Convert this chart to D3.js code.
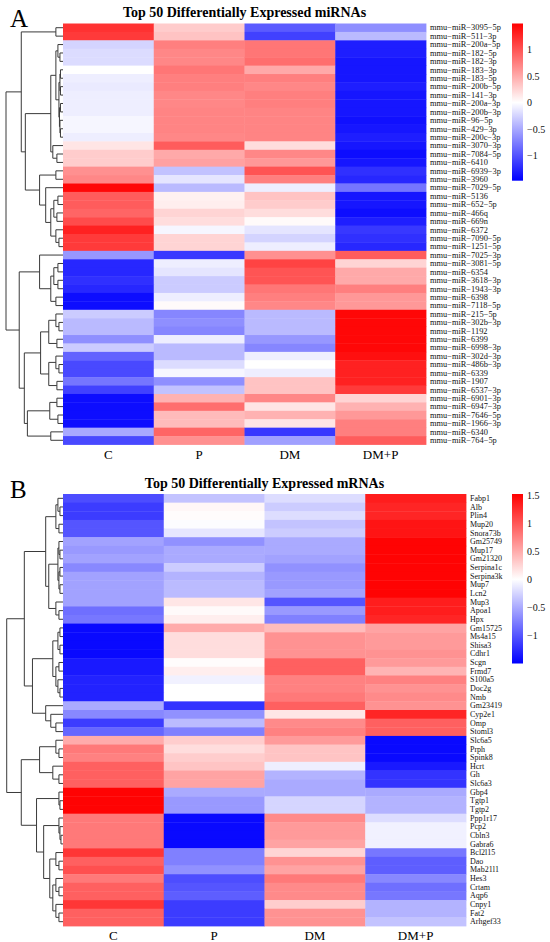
<!DOCTYPE html>
<html>
<head>
<meta charset="utf-8">
<script src="https://cdn.jsdelivr.net/npm/d3@7"></script>
<style>
  body { margin: 0; background: #fff; }
  text { font-family: "Liberation Serif", "Times New Roman", serif; }
</style>
</head>
<body>
<svg id="chart" width="550" height="942"></svg>
<script>
// groups on the x axis (same for both panels)
var groups = ["C", "P", "DM", "DM+P"];

// ---- panel A : miRNAs ----
var miRNAs = ["mmu-miR-3095-5p","mmu-miR-511-3p","mmu-miR-200a-5p","mmu-miR-182-5p","mmu-miR-182-3p",
  "mmu-miR-183-3p","mmu-miR-183-5p","mmu-miR-200b-5p","mmu-miR-141-3p","mmu-miR-200a-3p",
  "mmu-miR-200b-3p","mmu-miR-96-5p","mmu-miR-429-3p","mmu-miR-200c-3p","mmu-miR-3070-3p",
  "mmu-miR-7084-5p","mmu-miR-6410","mmu-miR-6939-3p","mmu-miR-3960","mmu-miR-7029-5p",
  "mmu-miR-5136","mmu-miR-652-5p","mmu-miR-466q","mmu-miR-669n","mmu-miR-6372",
  "mmu-miR-7090-5p","mmu-miR-1251-5p","mmu-miR-7025-3p","mmu-miR-3081-5p","mmu-miR-6354",
  "mmu-miR-3618-3p","mmu-miR-1943-3p","mmu-miR-6398","mmu-miR-7118-5p","mmu-miR-215-5p",
  "mmu-miR-302b-3p","mmu-miR-1192","mmu-miR-6399","mmu-miR-6998-3p","mmu-miR-302d-3p",
  "mmu-miR-486b-3p","mmu-miR-6339","mmu-miR-1907","mmu-miR-6537-3p","mmu-miR-6901-3p",
  "mmu-miR-6947-3p","mmu-miR-7646-5p","mmu-miR-1966-3p","mmu-miR-6340","mmu-miR-764-5p"];

var miC = [1.2,1.15,-0.25,-0.2,-0.2,0.0,-0.1,-0.12,-0.1,-0.1,
  -0.1,-0.05,-0.05,-0.1,0.15,0.3,0.3,0.65,0.7,1.45,
  0.95,0.95,0.9,1.05,1.3,1.15,1.15,-0.6,-1.25,-1.25,
  -1.2,-1.25,-1.4,-1.4,-0.3,-0.4,-0.4,-0.65,-0.3,-0.9,
  -1.05,-1.05,-0.8,-1.1,-1.4,-1.4,-1.4,-1.4,-0.5,-1.05];
var miP = [0.3,0.35,0.75,0.7,0.7,0.8,0.75,0.75,0.7,0.7,
  0.72,0.72,0.72,0.7,0.95,0.5,0.55,-0.35,-0.15,-0.4,
  0.08,0.1,0.25,0.2,-0.05,0.25,0.25,-1.15,-0.1,-0.15,
  -0.3,-0.3,-0.1,0.03,-0.7,-0.65,-0.7,-0.1,-0.4,-0.4,
  -0.2,-0.05,-0.65,-0.35,0.45,0.85,0.4,0.4,0.9,0.65];
var miDM = [-0.95,-1.1,0.8,0.8,0.85,0.5,0.75,0.7,0.75,0.75,
  0.72,0.72,0.72,0.72,0.2,0.7,0.6,1.0,0.75,-0.1,
  0.35,0.3,0.2,0.03,-0.15,-0.25,-0.1,0.65,1.1,1.0,
  1.0,0.8,0.75,0.7,-0.4,-0.4,-0.4,-0.6,-0.7,-0.1,
  0.0,-0.1,0.35,0.35,0.7,0.15,0.45,0.15,-1.15,-0.55];
var miDMP = [-0.65,-0.4,-1.3,-1.3,-1.35,-1.35,-1.35,-1.3,-1.35,-1.35,
  -1.35,-1.38,-1.35,-1.3,-1.35,-1.4,-1.35,-1.2,-1.25,-0.8,
  -1.35,-1.35,-1.4,-1.3,-1.15,-1.2,-1.25,0.95,0.25,0.5,
  0.5,0.75,0.6,0.6,1.45,1.45,1.45,1.45,1.45,1.4,
  1.3,1.3,1.3,1.15,0.25,0.45,0.6,0.75,0.75,0.95];

// row dendrogram: leaf = row index, node = [left, right, merge height]
var miTree = [
  [[0, 1, 7],
   [[[[2, [3, 4, 3], 5],
      [[[5, 6, 2.5], [7, 8, 2.5], 3], [[9, 10, 2.5], [11, [12, 13, 2.5], 3], 3.5], 4], 7],
     [14, [15, 16, 6], 10], 12],
    [[17, 18, 7],
     [19, [[[20, 21, 5], [22, 23, 6], 9], [24, [25, 26, 4], 7], 12], 17], 23], 37], 41],
  [[27, [[[28, 29, 5], [30, 31, 5], 9], [32, 33, 7], 12], 23],
   [[[[34, [35, 36, 4], 7], [37, 38, 6], 14], [[39, [40, 41, 4], 7], [42, 43, 6], 14], 22],
    [[[44, 45, 6], [46, 47, 5], 13], [48, 49, 12], 35], 38], 43], 56];
var miTicks = [1, 0.5, 0, -0.5, -1];

// ---- panel B : mRNAs ----
var mRNAs = ["Fabp1","Alb","Plin4","Mup20","Snora73b","Gm25749","Mup17","Gm21320","Serpina1c","Serpina3k",
  "Mup7","Lcn2","Mup3","Apoa1","Hpx","Gm15725","Ms4a15","Shisa3","Cdhr1","Scgn",
  "Frmd7","S100a5","Doc2g","Nmb","Gm23419","Cyp2e1","Omp","Stoml3","Slc6a5","Prph",
  "Spink8","Hcrt","Gh","Slc6a3","Gbp4","Tgtp1","Tgtp2","Ppp1r17","Pcp2","Cbln3",
  "Gabra6","Bcl2l15","Dao","Mab21l1","Hes3","Crtam","Aqp6","Cnpy1","Fat2","Arhgef33"];

var mC = [-1.05,-1.15,-1.15,-1.0,-1.0,-0.55,-0.6,-0.55,-0.7,-0.55,
  -0.55,-0.55,-0.55,-0.85,-0.8,-1.45,-1.45,-1.45,-1.45,-1.35,
  -1.35,-1.3,-1.3,-1.3,-0.5,-0.7,-1.15,-0.9,0.5,0.8,
  0.75,0.95,0.95,0.95,1.5,1.5,1.5,0.8,0.8,0.8,
  0.8,1.2,0.95,1.05,0.8,0.95,0.95,1.2,0.95,0.95];
var mP = [-0.35,0.05,0.02,-0.02,-0.15,-0.65,-0.5,-0.5,-0.3,-0.45,
  -0.4,-0.4,0.15,0.03,0.1,0.5,0.2,0.2,0.2,0.02,
  0.1,-0.08,0.0,0.0,-1.2,-0.65,-0.4,-0.75,0.3,0.2,
  0.3,0.35,0.55,0.55,-0.5,-0.6,-0.6,-1.45,-1.45,-1.45,
  -1.45,-0.75,-0.75,-0.65,-1.05,-1.0,-0.95,-1.15,-1.15,-1.15];
var mDM = [-0.2,-0.3,-0.2,-0.35,-0.3,-0.5,-0.5,-0.55,-0.65,-0.6,
  -0.6,-0.55,-1.0,-0.6,-0.75,0.4,0.65,0.65,0.65,0.95,
  0.95,0.75,0.75,0.8,0.95,0.15,0.7,0.75,0.6,0.35,
  0.35,-0.1,-0.45,-0.5,-0.5,-0.25,-0.25,0.7,0.6,0.6,
  0.55,0.25,0.65,0.55,0.8,0.7,0.7,0.3,0.65,0.65];
var mDMP = [1.35,1.3,1.3,1.4,1.4,1.5,1.5,1.5,1.5,1.5,
  1.5,1.5,1.35,1.35,1.3,0.55,0.6,0.6,0.65,0.6,
  0.45,0.75,0.65,0.7,0.65,1.3,0.95,0.95,-1.45,-1.45,
  -1.45,-1.35,-1.2,-1.2,-0.5,-0.45,-0.45,-0.2,-0.08,-0.08,
  -0.08,-0.8,-0.95,-0.95,-0.7,-0.85,-0.8,-0.45,-0.45,-0.35];

var mTree = [
  [[[[0, [1, 2, 3], 5], [3, 4, 4], 7],
    [[[5, [6, 7, 3], 4], [[8, 9, 3], [10, 11, 3], 4], 5], [12, [13, 14, 4], 7], 14], 17],
   [[[[15, 16, 3], [17, 18, 3], 5], [[19, 20, 4], [21, [22, 23, 3], 5], 7], 10],
    [24, [25, [26, 27, 7], 12], 17], 30], 38],
  [[[28, [29, 30, 4], 7], [31, [32, 33, 4], 10], 23],
   [[34, [35, 36, 3], 4],
    [[37, [38, [39, 40, 2], 3], 4],
     [[41, [42, 43, 4], 7], [[44, [45, 46, 4], 7], [47, [48, 49, 4], 7], 10], 13], 19], 26], 41], 55.3];
var mTicks = [1.5, 1, 0.5, 0, -0.5, -1];

var svg = d3.select("#chart");

function drawPanel(p) {
  var g = svg.append("g");

  var x = d3.scaleBand().domain(groups).range([p.left, p.right]);
  var y = d3.scaleBand().domain(p.names).range([p.top, p.bottom]);
  var color = d3.scaleLinear().domain([p.lo, 0, p.hi]).range(["#0000ff", "#ffffff", "#ff0000"]).clamp(true);

  // cells
  var cells = [];
  p.names.forEach(function(n, i) {
    groups.forEach(function(gr, j) {
      cells.push({ row: n, col: gr, v: p.values[j][i] });
    });
  });
  g.selectAll(".cell")
    .data(cells)
    .enter().append("rect")
    .attr("class", "cell")
    .attr("x", function(d) { return x(d.col); })
    .attr("y", function(d) { return y(d.row); })
    .attr("width", x.bandwidth() + 0.4)
    .attr("height", y.bandwidth() + 0.4)
    .style("fill", function(d) { return color(d.v); });

  // row labels (R draws the dashes as minus signs)
  g.selectAll(".rowlab")
    .data(p.names)
    .enter().append("text")
    .attr("x", p.right + 4)
    .attr("y", function(d) { return y(d) + y.bandwidth() / 2; })
    .attr("dy", "0.33em")
    .style("font-size", p.rowFont)
    .style("fill", "#111")
    .text(function(d) { return d.replace(/-/g, "\u2212"); });

  // column labels
  g.selectAll(".collab")
    .data(groups)
    .enter().append("text")
    .attr("x", function(d) { return x(d) + x.bandwidth() / 2; })
    .attr("y", p.bottom + 14)
    .attr("text-anchor", "middle")
    .style("font-size", "13px")
    .text(function(d) { return d; });

  // dendrogram
  var hx = d3.scaleLinear().domain([0, 56]).range([p.left, 6]);
  var segs = [];
  function place(node) {
    if (typeof node === "number") {
      return { x: hx(0), y: y(p.names[node]) + y.bandwidth() / 2 };
    }
    var a = place(node[0]), b = place(node[1]);
    var nx = hx(node[2]);
    segs.push([[nx, a.y], [nx, b.y]]);
    segs.push([[nx, a.y], [a.x, a.y]]);
    segs.push([[nx, b.y], [b.x, b.y]]);
    return { x: nx, y: (a.y + b.y) / 2 };
  }
  place(p.tree);
  g.selectAll(".seg")
    .data(segs)
    .enter().append("path")
    .attr("d", d3.line())
    .style("fill", "none")
    .style("stroke", "#3a3a3a")
    .style("stroke-width", 1);

  // title and panel letter
  g.append("text")
    .attr("x", (p.left + p.right) / 2)
    .attr("y", p.titleY)
    .attr("text-anchor", "middle")
    .style("font-size", "14px")
    .style("font-weight", "bold")
    .text(p.title);
  g.append("text")
    .attr("x", 10)
    .attr("y", p.letterY)
    .style("font-size", "25px")
    .text(p.letter);

  // colour key
  var gid = "grad" + p.letter;
  var grad = svg.append("defs").append("linearGradient")
    .attr("id", gid).attr("x1", 0).attr("y1", 0).attr("x2", 0).attr("y2", 1);
  [p.hi, 0, p.lo].forEach(function(v) {
    grad.append("stop")
      .attr("offset", (p.hi - v) / (p.hi - p.lo))
      .attr("stop-color", color(v));
  });
  var by = d3.scaleLinear().domain([p.hi, p.lo]).range([p.barTop, p.barBottom]);
  g.append("rect")
    .attr("x", 512).attr("y", p.barTop)
    .attr("width", 11).attr("height", p.barBottom - p.barTop)
    .style("fill", "url(#" + gid + ")");
  var ax = g.append("g")
    .attr("transform", "translate(523,0)")
    .call(d3.axisRight(by).tickValues(p.ticks).tickSize(0).tickPadding(4).tickFormat(d3.format("~g")));
  ax.select(".domain").remove();
  ax.selectAll("text")
    .style("font-family", '"Liberation Serif", serif')
    .style("font-size", "10px")
    .style("fill", "#111");
}

drawPanel({
  names: miRNAs, values: [miC, miP, miDM, miDMP], tree: miTree, rowFont: "8.4px",
  left: 63, right: 426, top: 23.5, bottom: 444.5,
  lo: -1.475, hi: 1.49, ticks: miTicks, barTop: 23.5, barBottom: 180.7,
  title: "Top 50 Differentially Expressed miRNAs", titleY: 17,
  letter: "A", letterY: 27
});
drawPanel({
  names: mRNAs, values: [mC, mP, mDM, mDMP], tree: mTree, rowFont: "8px",
  left: 63, right: 466, top: 494, bottom: 926,
  lo: -1.5, hi: 1.52, ticks: mTicks, barTop: 494, barBottom: 663.5,
  title: "Top 50 Differentially Expressed mRNAs", titleY: 488,
  letter: "B", letterY: 498
});
</script>
</body>
</html>
